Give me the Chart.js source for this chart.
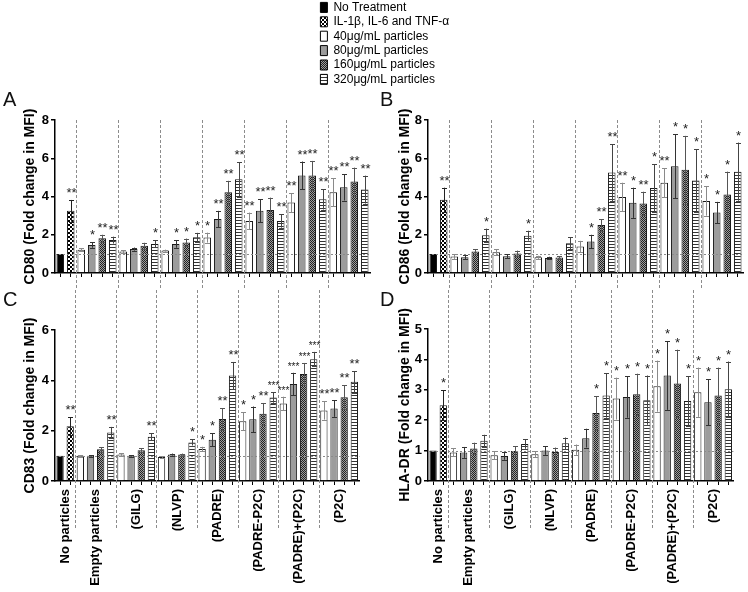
<!DOCTYPE html>
<html><head><meta charset="utf-8">
<script src="https://cdn.jsdelivr.net/npm/chart.js@4.4.1/dist/chart.umd.min.js"></script>
<style>
html,body{margin:0;padding:0;background:#fff}
body{width:748px;height:592px;overflow:hidden;position:relative;font-family:'Liberation Sans',Arial,sans-serif}
canvas{position:absolute}
.letter{position:absolute;font-size:20px;line-height:20px;color:#111}
</style></head><body>
<canvas id="leg" width="400" height="92" style="left:318px;top:-1px"></canvas>
<canvas id="pA" width="374" height="190" style="left:0px;top:100px"></canvas>
<canvas id="pB" width="374" height="190" style="left:374px;top:100px"></canvas>
<canvas id="pC" width="374" height="302" style="left:0px;top:290px"></canvas>
<canvas id="pD" width="374" height="302" style="left:374px;top:290px"></canvas>
<div class="letter" style="left:3px;top:89px">A</div>
<div class="letter" style="left:380px;top:89px">B</div>
<div class="letter" style="left:3px;top:289px">C</div>
<div class="letter" style="left:380px;top:289px">D</div>
<script>
// ---------------- DATA ----------------
const groups = ['No particles', 'Empty particles', '(GILG)', '(NLVP)', '(PADRE)', '(PADRE-P2C)', '(PADRE)+(P2C)', '(P2C)'];
const treatments = ['No Treatment', 'IL-1\u03B2, IL-6 and TNF-\u03B1', '40\u03BCg/mL particles', '80\u03BCg/mL particles', '160\u03BCg/mL particles', '320\u03BCg/mL particles'];
const groupTreatments = [[0, 1], [2, 3, 4, 5], [2, 3, 4, 5], [2, 3, 4, 5], [2, 3, 4, 5], [2, 3, 4, 5], [2, 3, 4, 5], [2, 3, 4, 5]];

const cd80Values = [1.0, 3.25, 1.22, 1.46, 1.82, 1.72, 1.12, 1.25, 1.43, 1.52, 1.17, 1.52, 1.6, 1.87, 1.85, 2.82, 4.22, 4.9, 2.72, 3.26, 3.3, 2.72, 3.68, 5.1, 5.1, 3.85, 4.22, 4.48, 4.78, 4.36];
const cd80Errors = [0, 0.57, 0.08, 0.14, 0.18, 0.18, 0.08, 0.08, 0.15, 0.18, 0.05, 0.2, 0.2, 0.23, 0.26, 0.43, 0.6, 0.9, 0.44, 0.6, 0.64, 0.35, 0.5, 0.73, 0.76, 0.53, 0.74, 0.69, 0.73, 0.73];
const cd80Stars = ['', '**', '', '*', '**', '**', '', '', '', '*', '', '*', '*', '*', '*', '**', '**', '**', '**', '**', '**', '**', '**', '**', '**', '**', '**', '**', '**', '**'];

const cd86Values = [1.0, 3.83, 0.86, 0.82, 1.12, 1.98, 1.09, 0.87, 1.02, 1.95, 0.82, 0.79, 0.81, 1.56, 1.38, 1.65, 2.51, 5.25, 3.98, 3.67, 3.63, 4.44, 4.72, 5.58, 5.4, 4.84, 3.77, 3.16, 4.1, 5.3];
const cd86Errors = [0, 0.63, 0.12, 0.1, 0.13, 0.34, 0.16, 0.1, 0.15, 0.26, 0.08, 0.06, 0.07, 0.32, 0.3, 0.35, 0.31, 1.49, 0.74, 0.79, 0.62, 1.24, 0.75, 1.68, 1.77, 1.63, 0.77, 0.56, 1.2, 1.52];
const cd86Stars = ['', '**', '', '', '', '*', '', '', '', '*', '', '', '', '', '', '*', '**', '**', '**', '*', '**', '*', '**', '*', '*', '*', '*', '*', '*', '*'];

const cd83Values = [1.0, 2.18, 1.0, 1.0, 1.26, 1.93, 1.05, 1.0, 1.22, 1.76, 0.95, 1.05, 1.05, 1.53, 1.27, 1.64, 2.46, 4.19, 2.37, 2.45, 2.67, 3.32, 3.08, 3.85, 4.25, 4.84, 2.8, 2.88, 3.33, 3.94];
const cd83Errors = [0, 0.35, 0.03, 0.03, 0.09, 0.22, 0.05, 0.03, 0.08, 0.14, 0.03, 0.04, 0.04, 0.12, 0.09, 0.25, 0.44, 0.54, 0.36, 0.51, 0.43, 0.21, 0.27, 0.45, 0.44, 0.29, 0.36, 0.33, 0.47, 0.43];
const cd83Stars = ['', '**', '', '', '', '**', '', '', '', '**', '', '', '', '*', '*', '*', '**', '**', '*', '*', '**', '***', '***', '***', '***', '***', '**', '**', '**', '**'];

const hladrValues = [1.0, 2.49, 0.94, 0.94, 1.07, 1.32, 0.85, 0.82, 0.99, 1.22, 0.88, 1.0, 0.95, 1.24, 1.03, 1.41, 2.24, 2.81, 2.71, 2.76, 2.85, 2.66, 3.12, 3.47, 3.21, 2.63, 2.92, 2.59, 2.81, 3.02];
const hladrErrors = [0, 0.49, 0.13, 0.18, 0.19, 0.2, 0.13, 0.12, 0.16, 0.16, 0.1, 0.14, 0.15, 0.19, 0.17, 0.31, 0.55, 0.73, 0.69, 0.68, 0.68, 0.81, 0.84, 1.13, 1.11, 0.81, 0.81, 0.76, 0.92, 0.91];
const hladrStars = ['', '*', '', '', '', '', '', '', '', '', '', '', '', '', '', '', '*', '*', '*', '*', '*', '*', '*', '*', '*', '*', '*', '*', '*', '*'];

// ---------------- DERIVED ----------------
const barTreatment = groupTreatments.flat();
const barGroup = groupTreatments.flatMap((g, gi) => g.map(() => gi));
const nBars = barTreatment.length;
const groupStarts = [];
const labelAt = {};
{
  let s = 0;
  groupTreatments.forEach((g, gi) => { groupStarts.push(s); labelAt[s + g.length / 2 - 1] = groups[gi]; s += g.length; });
}
const separators = groupStarts.slice(1);
const xLabels = barGroup.map((gi, i) => groups[gi] + ' / ' + treatments[barTreatment[i]]);

Chart.defaults.font.family = "'Liberation Sans', Arial, Helvetica, sans-serif";
Chart.defaults.color = '#000';

function makePattern(kind) {
  const c = document.createElement('canvas');
  const g = c.getContext('2d');
  if (kind === 'cyto') {
    c.width = 4; c.height = 4;
    g.fillStyle = '#fff'; g.fillRect(0, 0, 4, 4);
    g.fillStyle = '#000'; g.fillRect(0, 0, 2, 2); g.fillRect(2, 2, 2, 2);
  } else if (kind === 'p160') {
    c.width = 2; c.height = 2;
    g.fillStyle = '#9e9e9e'; g.fillRect(0, 0, 2, 2);
    g.fillStyle = '#222'; g.fillRect(0, 0, 1, 1); g.fillRect(1, 1, 1, 1);
  } else {
    c.width = 1; c.height = 3;
    g.fillStyle = '#fff'; g.fillRect(0, 0, 1, 3);
    g.fillStyle = '#333'; g.fillRect(0, 0, 1, 1);
  }
  return g.createPattern(c, 'repeat');
}
const fills = ['#000000', makePattern('cyto'), '#ffffff', '#9c9c9c', makePattern('p160'), makePattern('p320')];
const errColors = ['#000', '#222', '#8a8a8a', '#333', '#555', '#444'];

const extras = {
  id: 'extras',
  beforeDatasetsDraw(chart, args, o) {
    const {ctx, chartArea: a, scales: {x}} = chart;
    ctx.save();
    ctx.strokeStyle = '#8c8c8c'; ctx.lineWidth = 1; ctx.setLineDash([3, 2]);
    separators.forEach(i => {
      const px = Math.round((x.getPixelForValue(i - 1) + x.getPixelForValue(i)) / 2) + 0.5;
      ctx.beginPath();
      ctx.moveTo(px, o.sepFromTop ? 0 : a.top);
      ctx.lineTo(px, a.bottom + o.sepBelow);
      ctx.stroke();
    });
    ctx.restore();
  },
  afterDatasetsDraw(chart, args, o) {
    const {ctx, chartArea: a, scales: {x, y}} = chart;
    ctx.save();
    // reference line at 1
    const y1 = Math.round(y.getPixelForValue(1)) + 0.5;
    ctx.strokeStyle = '#8a8a8a'; ctx.lineWidth = 1; ctx.setLineDash([2, 2]);
    ctx.beginPath(); ctx.moveTo(a.left, y1); ctx.lineTo(a.right, y1); ctx.stroke();
    ctx.setLineDash([]);
    o.values.forEach((v, i) => {
      const e = o.errors[i];
      const px = Math.round(x.getPixelForValue(i)) + 0.5;
      let top = y.getPixelForValue(v + e);
      if (e > 0) {
        const bot = y.getPixelForValue(v - e);
        ctx.strokeStyle = errColors[barTreatment[i]];
        ctx.lineWidth = 1;
        ctx.beginPath();
        ctx.moveTo(px, top); ctx.lineTo(px, bot);
        ctx.moveTo(px - 2.5, Math.round(top) + 0.5); ctx.lineTo(px + 2.5, Math.round(top) + 0.5);
        ctx.moveTo(px - 2.5, Math.round(bot) + 0.5); ctx.lineTo(px + 2.5, Math.round(bot) + 0.5);
        ctx.stroke();
      }
      const s = o.stars[i];
      if (s) {
        ctx.fillStyle = '#222';
        ctx.textAlign = 'center';
        ctx.textBaseline = 'alphabetic';
        ctx.font = (s.length > 2 ? '10px' : '13px') + " 'Liberation Sans', Arial, sans-serif";
        ctx.fillText(s, px, top - 3);
      }
    });
    ctx.restore();
  }
};

function makePanel(id, cfg) {
  return new Chart(document.getElementById(id), {
    type: 'bar',
    data: {
      labels: xLabels,
      datasets: [{
        label: cfg.title,
        data: cfg.values,
        backgroundColor: barTreatment.map(t => fills[t]),
        borderColor: '#1a1a1a',
        borderWidth: 1,
        barPercentage: 0.72,
        categoryPercentage: 1
      }]
    },
    options: {
      responsive: false,
      animation: false,
      devicePixelRatio: 1,
      layout: {padding: {top: cfg.padTop, right: cfg.padRight, left: 0, bottom: 0}},
      plugins: {
        legend: {display: false},
        tooltip: {enabled: false},
        extras: {values: cfg.values, errors: cfg.errors, stars: cfg.stars, sepFromTop: cfg.sepFromTop, sepBelow: cfg.sepBelow}
      },
      scales: {
        x: {
          type: 'category',
          offset: true,
          grid: {offset: false, drawOnChartArea: false, drawTicks: true, tickLength: 4, color: '#000', lineWidth: 1},
          border: {color: '#000', width: 1.5},
          ticks: {
            display: cfg.showLabels, autoSkip: false, maxRotation: 90, minRotation: 90,
            padding: 4, labelOffset: 5.25, color: '#000',
            font: {weight: 'bold', size: 13},
            callback: (v, i) => labelAt[i] || ''
          },
          afterFit: s => { s.height = cfg.xHeight; }
        },
        y: {
          min: 0, max: cfg.yMax,
          ticks: {stepSize: cfg.yStep, color: '#000', padding: 2, font: {weight: 'bold', size: 13}},
          grid: {drawOnChartArea: false, tickLength: 4, color: '#000', lineWidth: 1.5},
          border: {color: '#000', width: 1.5},
          title: {display: true, text: cfg.title, color: '#000', font: {weight: 'bold', size: 14}, padding: {top: cfg.titlePad, bottom: 0}},
          afterFit: s => { s.width = cfg.yWidth; }
        }
      }
    },
    plugins: [extras]
  });
}

makePanel('pA', {values: cd80Values, errors: cd80Errors, stars: cd80Stars, title: 'CD80 (Fold change in MFI)', yMax: 8, yStep: 2,
  padTop: 20, padRight: 4, yWidth: 55, xHeight: 17, showLabels: false, sepFromTop: false, sepBelow: 17, titlePad: 22});
makePanel('pB', {values: cd86Values, errors: cd86Errors, stars: cd86Stars, title: 'CD86 (Fold change in MFI)', yMax: 8, yStep: 2,
  padTop: 20, padRight: 5, yWidth: 54, xHeight: 17, showLabels: false, sepFromTop: false, sepBelow: 17, titlePad: 23});
makePanel('pC', {values: cd83Values, errors: cd83Errors, stars: cd83Stars, title: 'CD83 (Fold change in MFI)', yMax: 6, yStep: 2,
  padTop: 40, padRight: 4, yWidth: 55, xHeight: 111, showLabels: true, sepFromTop: true, sepBelow: 49, titlePad: 22});
makePanel('pD', {values: hladrValues, errors: hladrErrors, stars: hladrStars, title: 'HLA-DR (Fold change in MFI)', yMax: 5, yStep: 1,
  padTop: 39, padRight: 5, yWidth: 54, xHeight: 111, showLabels: true, sepFromTop: true, sepBelow: 49, titlePad: 23});

// legend
new Chart(document.getElementById('leg'), {
  type: 'bar',
  data: {
    labels: [],
    datasets: treatments.map((t, i) => ({label: t, data: [], backgroundColor: fills[i], borderColor: '#000', borderWidth: 1}))
  },
  options: {
    responsive: false, animation: false, devicePixelRatio: 1,
    layout: {padding: 0},
    scales: {x: {display: false}, y: {display: false}},
    plugins: {
      tooltip: {enabled: false},
      legend: {position: 'left', align: 'start',
        labels: {boxWidth: 7, boxHeight: 10, padding: 2.4, color: '#000', font: {size: 12}}}
    }
  }
});
</script>
</body></html>
